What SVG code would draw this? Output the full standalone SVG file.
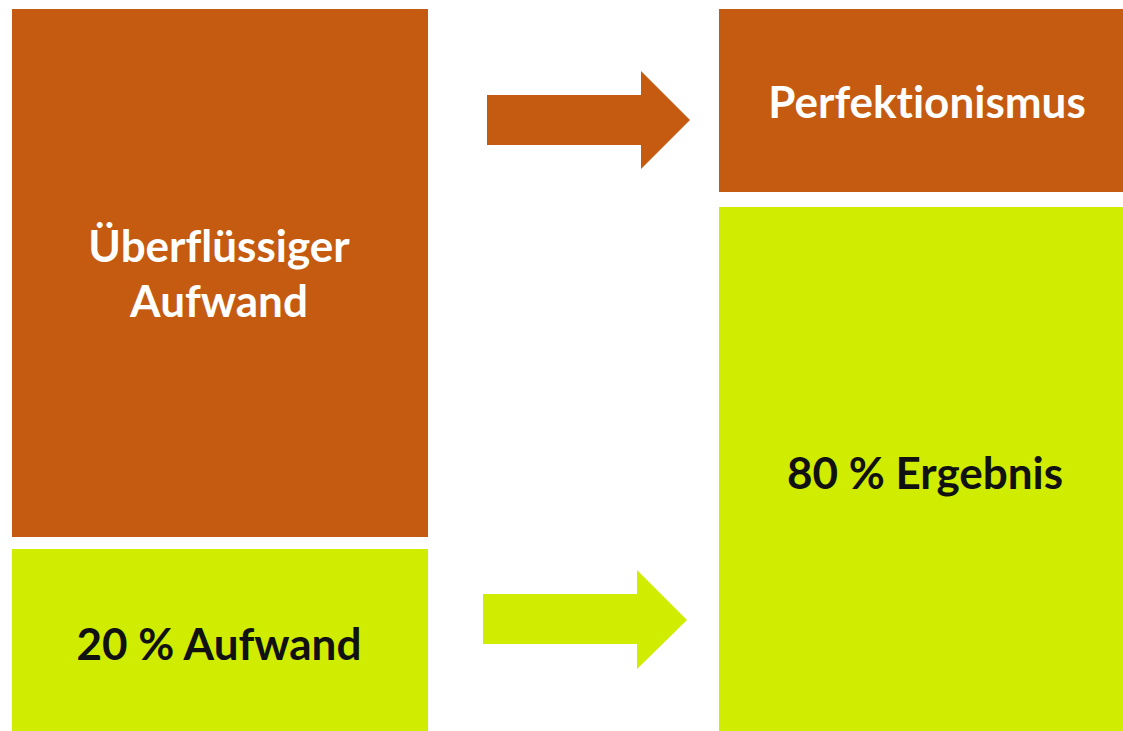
<svg xmlns="http://www.w3.org/2000/svg" width="1123" height="731" viewBox="0 0 1123 731">
<style>
.o{fill:#C55A11}
.g{fill:#D0EC00}
.t{font-family:Lato,"Open Sans",sans-serif;font-weight:bold;font-size:44px;text-anchor:middle;font-variant-ligatures:none}
.w{fill:#FFFFFF}
.k{fill:#111111}
</style>
<rect width="1123" height="731" fill="#FFFFFF"/>
<g id="ueberfluessiger-aufwand">
<rect class="o" x="12" y="9" width="416" height="528"/>
<text class="t w" x="219" y="262">Überflüssiger</text>
<text class="t w" x="219" y="317">Aufwand</text>
</g>
<g id="aufwand-20">
<rect class="g" x="12" y="549" width="416" height="182"/>
<text class="t k" x="219" y="660">20 % Aufwand</text>
</g>
<g id="perfektionismus">
<rect class="o" x="719" y="9" width="404" height="183"/>
<text class="t w" x="927" y="118">Perfektionismus</text>
</g>
<g id="ergebnis-80">
<rect class="g" x="719" y="207" width="404" height="524"/>
<text class="t k" x="925" y="489">80 % Ergebnis</text>
</g>
<g id="connectors">
<polygon class="o" points="487,95 641,95 641,71 690,120 641,169 641,145 487,145"/>
<polygon class="g" points="483,594 637,594 637,570 687,620 637,669 637,644 483,644"/>
</g>
</svg>
